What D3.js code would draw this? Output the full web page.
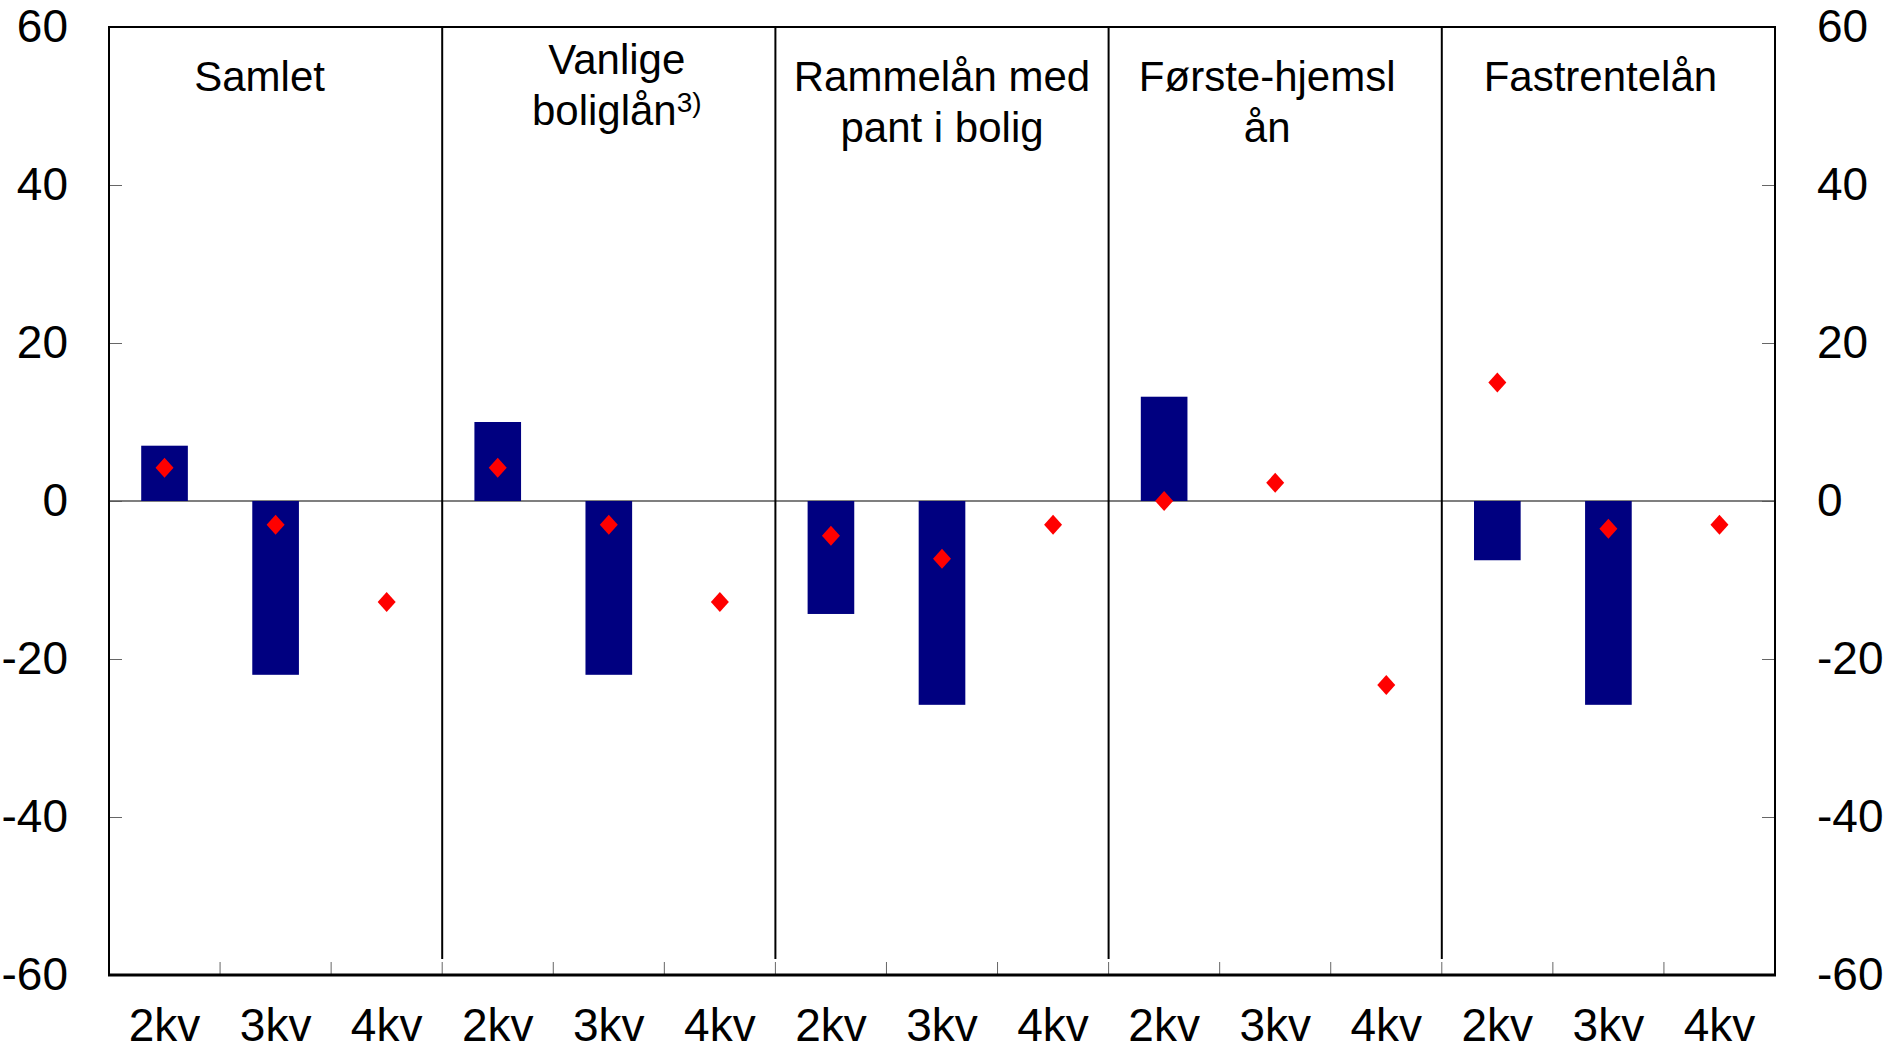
<!DOCTYPE html>
<html>
<head>
<meta charset="utf-8">
<script src="https://cdn.jsdelivr.net/npm/d3@7"></script>
<style>
  body { margin: 0; background: #fff; }
  text { font-family: "Liberation Sans", Arial, sans-serif; fill: #000; }
</style>
</head>
<body>
<div id="chart"></div>
<script>
// Panels and quarters
const panels = ["Samlet", "Vanlige boliglån", "Rammelån med pant i bolig", "Første-hjemslån", "Fastrentelån"];
const quarters = ["2kv", "3kv", "4kv"];

// title lines per panel (as in the picture)
const titleLines = [
  ["Samlet"],
  ["Vanlige", "boliglån"],
  ["Rammelån med", "pant i bolig"],
  ["Første-hjemsl", "ån"],
  ["Fastrentelån"]
];

// bar series (null = no bar), one array per panel: 2kv, 3kv, 4kv
const barSamlet = [7, -22, null];
const barVanlige = [10, -22, null];
const barRammelan = [-14.3, -25.8, null];
const barForste = [13.2, null, null];
const barFastrente = [-7.5, -25.8, null];

// diamond series
const dotSamlet = [4.2, -3, -12.8];
const dotVanlige = [4.2, -3, -12.8];
const dotRammelan = [-4.4, -7.3, -3];
const dotForste = [0, 2.3, -23.3];
const dotFastrente = [15, -3.5, -3];

const yTicks = [-60, -40, -20, 0, 20, 40, 60];

const barSeries = [barSamlet, barVanlige, barRammelan, barForste, barFastrente];
const dotSeries = [dotSamlet, dotVanlige, dotRammelan, dotForste, dotFastrente];

const svgWidth = 1883, svgHeight = 1053;
const margin = {top: 27, right: 108, bottom: 78, left: 109};
const width = svgWidth - margin.left - margin.right,
      height = svgHeight - margin.top - margin.bottom;

const svg = d3.select("#chart").append("svg")
  .attr("width", svgWidth)
  .attr("height", svgHeight);

const g = svg.append("g")
  .attr("transform", "translate(" + margin.left + "," + margin.top + ")");

// scales
const x0 = d3.scaleBand().domain(panels).range([0, width]);
const x1 = d3.scaleBand().domain(quarters).range([0, x0.bandwidth()])
  .paddingInner(0.58).paddingOuter(0.29);
const xq = d3.scaleBand().domain(quarters).range([0, x0.bandwidth()]);
const y = d3.scaleLinear().domain([-60, 60]).range([height, 0]);

// flatten data
const rows = [];
panels.forEach(function(p, i) {
  quarters.forEach(function(q, j) {
    rows.push({panel: p, q: q, bar: barSeries[i][j], dot: dotSeries[i][j]});
  });
});

// y axes (ticks pointing inward)
const yl = g.append("g")
  .call(d3.axisLeft(y).tickValues(yTicks).tickSize(-13).tickPadding(41).tickFormat(d3.format("d")));
const yr = g.append("g")
  .attr("transform", "translate(" + width + ",0)")
  .call(d3.axisRight(y).tickValues(yTicks).tickSize(-13).tickPadding(42).tickFormat(d3.format("d")));
[yl, yr].forEach(function(a) {
  a.select(".domain").remove();
  a.selectAll("line").attr("stroke", "#666");
  a.selectAll("text").style("font-size", "46px").attr("fill", "#000")
    .text(function(d) { return d < 0 ? "-" + Math.abs(d) : d; });
});

// zero line
g.append("line")
  .attr("x1", 0).attr("x2", width)
  .attr("y1", y(0)).attr("y2", y(0))
  .attr("stroke", "#555").attr("stroke-width", 1.5);

// bars
g.selectAll(".bar")
  .data(rows.filter(function(d) { return d.bar !== null; }))
  .enter().append("rect")
    .attr("class", "bar")
    .attr("x", function(d) { return x0(d.panel) + x1(d.q); })
    .attr("y", function(d) { return y(Math.max(0, d.bar)); })
    .attr("width", x1.bandwidth())
    .attr("height", function(d) { return Math.abs(y(d.bar) - y(0)); })
    .attr("fill", "#000080");

// diamonds
g.selectAll(".dot")
  .data(rows)
  .enter().append("path")
    .attr("class", "dot")
    .attr("transform", function(d) {
      return "translate(" + (x0(d.panel) + x1(d.q) + x1.bandwidth() / 2) + "," + y(d.dot) + ")";
    })
    .attr("d", "M0,-10L9,0L0,10L-9,0Z")
    .attr("fill", "#ff0000");

// x ticks at band boundaries
const bounds = [];
panels.forEach(function(p) {
  quarters.forEach(function(q) { bounds.push(x0(p) + xq(q)); });
});
g.selectAll(".xtick")
  .data(bounds.slice(1))
  .enter().append("line")
    .attr("x1", function(d) { return d; }).attr("x2", function(d) { return d; })
    .attr("y1", height - 13).attr("y2", height)
    .attr("stroke", "#666");

// panel dividers
g.selectAll(".divider")
  .data(panels.slice(1))
  .enter().append("line")
    .attr("x1", function(d) { return x0(d); }).attr("x2", function(d) { return x0(d); })
    .attr("y1", 0).attr("y2", height - 16)
    .attr("stroke", "#000").attr("stroke-width", 2);

// frame
g.append("path")
  .attr("d", "M0," + height + "V0H" + width + "V" + height)
  .attr("fill", "none").attr("stroke", "#000").attr("stroke-width", 2);
g.append("line")
  .attr("x1", -1).attr("x2", width + 1)
  .attr("y1", height).attr("y2", height)
  .attr("stroke", "#000").attr("stroke-width", 3);

// x labels
g.selectAll(".xlabel")
  .data(rows)
  .enter().append("text")
    .attr("x", function(d) { return x0(d.panel) + xq(d.q) + xq.bandwidth() / 2; })
    .attr("y", height + 66)
    .attr("text-anchor", "middle")
    .style("font-size", "46px")
    .text(function(d) { return d.q; });

// panel titles (small horizontal nudges to match the picture)
const titleShift = [-16, 8, 0, -8, -8];
panels.forEach(function(p, i) {
  const lines = titleLines[i];
  const cx = x0(p) + x0.bandwidth() / 2 + titleShift[i];
  const startY = i === 1 ? 47 : 64;
  const t = g.append("text")
    .attr("text-anchor", "middle")
    .style("font-size", "42px");
  lines.forEach(function(l, k) {
    t.append("tspan")
      .attr("x", cx)
      .attr("y", startY + k * 51)
      .text(l);
    if (i === 1 && k === 1) {
      t.append("tspan").attr("dy", -13).style("font-size", "28px").text("3)");
    }
  });
});
</script>
</body>
</html>
